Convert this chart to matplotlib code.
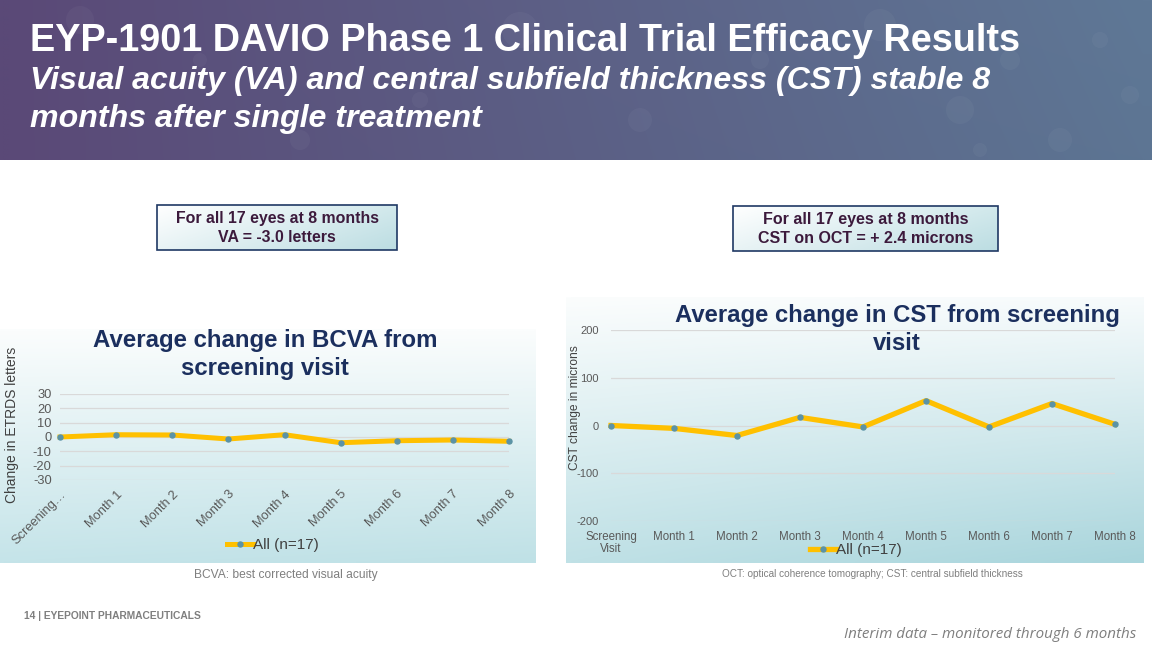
import matplotlib
matplotlib.use('Agg')
import matplotlib.pyplot as plt
import matplotlib.colors as mcolors
from matplotlib.patches import Rectangle, Ellipse
import numpy as np

# ---------------- data ----------------
bcva_categories = ['Screening…', 'Month 1', 'Month 2', 'Month 3', 'Month 4',
                   'Month 5', 'Month 6', 'Month 7', 'Month 8']
cst_categories = ['Screening\nVisit', 'Month 1', 'Month 2', 'Month 3', 'Month 4',
                  'Month 5', 'Month 6', 'Month 7', 'Month 8']
bcva_change = [0.0, 1.6, 1.4, -1.4, 1.6, -4.0, -2.6, -2.1, -3.0]
cst_change = [0.0, -6.0, -21.0, 17.0, -3.0, 52.0, -3.0, 46.0, 2.4]
bcva_ticks = [-30, -20, -10, 0, 10, 20, 30]
cst_ticks = [-200, -100, 0, 100, 200]
series_label = 'All (n=17)'

W, H = 1152, 648
fig = plt.figure(figsize=(11.52, 6.48), dpi=100)
fig.patch.set_facecolor('white')
FONT = 'Liberation Sans'
plt.rcParams['font.family'] = [FONT, 'DejaVu Sans']


def rect(x0, y0, x1, y1):
    return [x0 / W, 1 - y1 / H, (x1 - x0) / W, (y1 - y0) / H]


def fx(x):
    return x / W


def fy(y):
    return 1 - y / H


def grad_axes(box, tl, tr, bl, br, z=0):
    ax = fig.add_axes(rect(*box), zorder=z)
    ax.set_axis_off()
    n = 64
    u = np.linspace(0, 1, n)[None, :, None]
    v = np.linspace(0, 1, n)[:, None, None]
    c = lambda h: np.array(mcolors.to_rgb(h))
    img = (1 - v) * ((1 - u) * c(tl) + u * c(tr)) + v * ((1 - u) * c(bl) + u * c(br))
    ax.imshow(img, aspect='auto', extent=[0, 1, 0, 1], origin='upper',
              interpolation='bilinear')
    ax.set_xlim(0, 1)
    ax.set_ylim(0, 1)
    return ax


fit_list = []


def ftext(x, y, s, target_w, **kw):
    t = fig.text(fx(x), fy(y), s, **kw)
    fit_list.append((t, target_w))
    return t


# ---------------- header ----------------
hdr = grad_axes((0, 0, W, 160), '#5a4977', '#5f7896', '#5a4977', '#5d7593', z=0)
bubbles = [(80, 20, 14), (300, 140, 10), (520, 30, 18), (640, 120, 12), (760, 60, 9),
           (880, 25, 16), (960, 110, 14), (1010, 60, 10), (1060, 140, 12), (1100, 40, 8),
           (420, 100, 8), (200, 60, 7), (1130, 95, 9), (980, 150, 7)]
for (bx, by, br) in bubbles:
    hdr.add_patch(Ellipse((bx / W, 1 - by / 160), 2 * br / W, 2 * br / 160,
                          facecolor='white', alpha=0.035, edgecolor='none'))

ftext(30, 41, 'EYP-1901 DAVIO Phase 1 Clinical Trial Efficacy Results', 992,
      color='white', fontweight='bold', fontsize=24, va='center', ha='left', zorder=5)
sub1 = ftext(30, 81, 'Visual acuity (VA) and central subfield thickness (CST) stable 8', 957,
             color='white', fontweight='bold', fontstyle='italic', fontsize=20,
             va='center', ha='left', zorder=5)
sub2 = fig.text(fx(30), fy(119), 'months after single treatment', color='white',
                fontweight='bold', fontstyle='italic', fontsize=20, va='center',
                ha='left', zorder=5)

# ---------------- callout boxes ----------------
BOXTXT = '#3c1a3c'
for (x0, y0, x1, y1, l1, l2, w1, w2) in [
        (157, 205, 397, 250, 'For all 17 eyes at 8 months', 'VA = -3.0 letters', 205, 118),
        (733, 206, 998, 251, 'For all 17 eyes at 8 months', 'CST on OCT = + 2.4 microns', 204, 214)]:
    bax = grad_axes((x0, y0, x1, y1), '#ffffff', '#d2e9ec', '#e8f3f5', '#bcdde2', z=2)
    bax.add_patch(Rectangle((0, 0), 1, 1, transform=bax.transAxes, fill=False,
                            edgecolor='#1f3864', lw=1.2, clip_on=False))
    cx = (x0 + x1) / 2
    ftext(cx, y0 + 13.5, l1, w1, color=BOXTXT, fontweight='bold', fontsize=10.5,
          ha='center', va='center', zorder=6)
    ftext(cx, y0 + 32.5, l2, w2, color=BOXTXT, fontweight='bold', fontsize=10.5,
          ha='center', va='center', zorder=6)

# ---------------- chart panels backgrounds ----------------
grad_axes((0, 329, 536, 563), '#fbfdfd', '#fbfdfd', '#c5e4e9', '#bfe1e6', z=1)
grad_axes((566, 297, 1144, 563), '#fbfdfd', '#f7fbfc', '#c0e1e6', '#a9d5dc', z=1)

LINE = '#FFC000'
MARK = '#5b93a6'
TICK = '#595959'
TITLE = '#1b2f5e'


def style_axes(ax):
    ax.set_facecolor('none')
    for s in ax.spines.values():
        s.set_visible(False)
    ax.grid(axis='y', color='#d9d9d9', lw=0.9)
    ax.set_axisbelow(True)
    ax.tick_params(length=0, colors=TICK)


# ---------------- left chart (BCVA) ----------------
axL = fig.add_axes(rect(60, 394, 509, 480), zorder=3)
style_axes(axL)
xL = np.arange(len(bcva_categories))
lnL, = axL.plot(xL, bcva_change, color=LINE, lw=3.6, marker='o', ms=3.6,
                mfc=MARK, mec=MARK, clip_on=False, zorder=4, label=series_label)
axL.set_xlim(0, 8)
axL.set_ylim(-30, 30)
axL.set_yticks(bcva_ticks)
axL.set_yticklabels([str(v) for v in bcva_ticks], fontsize=9.3)
axL.set_xticks(xL)
axL.set_xticklabels(bcva_categories, fontsize=9.3, rotation=45, ha='right',
                    rotation_mode='anchor')
axL.tick_params(axis='x', pad=6)
axL.tick_params(axis='y', pad=6)
axL.legend(handles=[lnL], loc='center left', bbox_to_anchor=(fx(219), fy(545)),
           bbox_transform=fig.transFigure, frameon=False, fontsize=11,
           handlelength=1.7, handletextpad=0.0, labelcolor='#404040', borderpad=0)

ftext(265, 341, 'Average change in BCVA from', 343, color=TITLE, fontweight='bold',
      fontsize=15, ha='center', va='center', zorder=6)
tL2 = fig.text(fx(265), fy(369), 'screening visit', color=TITLE, fontweight='bold',
               fontsize=15, ha='center', va='center', zorder=6)
ftext(12, 425, 'Change in ETRDS letters', 156, color='#404040', fontsize=10,
      rotation=90, ha='center', va='center', zorder=6)
ftext(286, 575, 'BCVA: best corrected visual acuity', 183, color='#7f7f7f', fontsize=8,
      ha='center', va='center', zorder=6)

# ---------------- right chart (CST) ----------------
axR = fig.add_axes(rect(611, 330, 1115, 521), zorder=3)
style_axes(axR)
xR = np.arange(len(cst_categories))
lnR, = axR.plot(xR, cst_change, color=LINE, lw=3.8, marker='o', ms=3.6,
                mfc=MARK, mec=MARK, clip_on=False, zorder=4, label=series_label)
axR.set_xlim(0, 8)
axR.set_ylim(-200, 200)
axR.set_yticks(cst_ticks)
axR.set_yticklabels([str(v) for v in cst_ticks], fontsize=8)
axR.set_xticks(xR)
axR.set_xticklabels(cst_categories, fontsize=8.3, linespacing=1.05)
axR.tick_params(axis='x', pad=7)
axR.tick_params(axis='y', pad=9)
axR.legend(handles=[lnR], loc='center left', bbox_to_anchor=(fx(802), fy(550)),
           bbox_transform=fig.transFigure, frameon=False, fontsize=11,
           handlelength=1.7, handletextpad=0.0, labelcolor='#404040', borderpad=0)

ftext(897, 315, 'Average change in CST from screening', 445, color=TITLE,
      fontweight='bold', fontsize=15, ha='center', va='center', zorder=6)
tR2 = fig.text(fx(897), fy(343), 'visit', color=TITLE, fontweight='bold', fontsize=15,
               ha='center', va='center', zorder=6)
ftext(575, 408, 'CST change in microns', 125, color='#404040', fontsize=8,
      rotation=90, ha='center', va='center', zorder=6)
ftext(872, 574, 'OCT: optical coherence tomography; CST: central subfield thickness', 301,
      color='#7f7f7f', fontsize=7, ha='center', va='center', zorder=6)

# ---------------- footer ----------------
ftext(24, 616, '14 | EYEPOINT PHARMACEUTICALS', 178, color='#7f7f7f', fontweight='bold',
      fontsize=7, ha='left', va='center', zorder=6)
ftext(1136, 634, 'Interim data – monitored through 6 months', 293, color='#7f7f7f',
      fontstyle='italic', fontsize=11, ha='right', va='center', zorder=6,
      family=['Open Sans', 'DejaVu Sans'])

# ---------------- fit text widths ----------------
renderer = fig.canvas.get_renderer()
for _ in range(2):
    for t, target in fit_list:
        bb = t.get_window_extent(renderer)
        w = bb.height if t.get_rotation() in (90, 90.0) else bb.width
        if w > 0:
            t.set_fontsize(t.get_fontsize() * target / w)

sub2.set_fontsize(sub1.get_fontsize())
for t, ref in [(tL2, 'Average change in BCVA from'), (tR2, 'Average change in CST from screening')]:
    for tt, _ in fit_list:
        if tt.get_text() == ref:
            t.set_fontsize(tt.get_fontsize())

fig.savefig('out.png', dpi=100)
